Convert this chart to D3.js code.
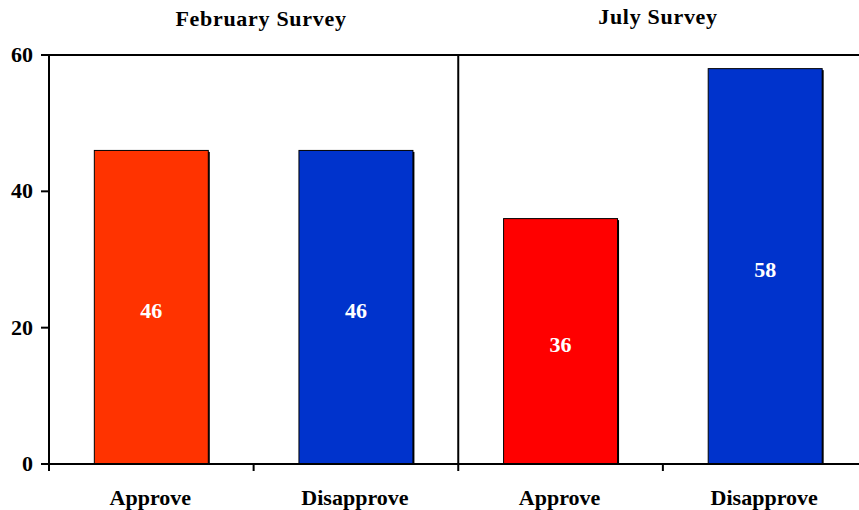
<!DOCTYPE html>
<html>
<head>
<meta charset="utf-8">
<script src="https://cdn.jsdelivr.net/npm/d3@7"></script>
<style>
  body { margin: 0; background: #fff; }
  svg { display: block; }
  text { font-family: "Liberation Serif", "Times New Roman", serif; font-weight: bold; }
</style>
</head>
<body>
<svg id="chart" width="859" height="510"></svg>
<script>
// Approval survey results, two survey rounds
const surveys = ["February Survey", "July Survey"];
const categories = ["Approve", "Disapprove", "Approve", "Disapprove"];
const values = [46, 46, 36, 58];
const colors = ["#ff3300", "#0033cc", "#ff0000", "#0033cc"];
const yTicks = [0, 20, 40, 60];

const svg = d3.select("#chart");
const plotLeft = 49, plotTop = 55, plotBottom = 464, plotRight = 867.5;

const x = d3.scaleBand().domain(d3.range(categories.length)).range([plotLeft, plotRight]).padding(0);
const y = d3.scaleLinear().domain([0, 60]).range([plotBottom, plotTop]);
const barW = x.bandwidth() * 0.557;

// bars with dark right edge
const bars = svg.append("g");
values.forEach((v, i) => {
  const cx = x(i) + x.bandwidth() / 2;
  bars.append("rect")
    .attr("x", cx - barW / 2 + 1.5).attr("y", y(v) + 1.5)
    .attr("width", barW).attr("height", y(0) - y(v) - 1.5)
    .attr("fill", "#000");
  bars.append("rect")
    .attr("x", cx - barW / 2).attr("y", y(v))
    .attr("width", barW).attr("height", y(0) - y(v))
    .attr("fill", colors[i]).attr("stroke", "#000").attr("stroke-width", 1);
  bars.append("text")
    .attr("x", cx).attr("y", (y(v) + y(0)) / 2 + 5.5)
    .attr("text-anchor", "middle").attr("dominant-baseline", "middle")
    .attr("fill", "#fff").attr("font-size", 22)
    .text(v);
});

// frame: left axis, top rule, baseline, survey divider
const frame = svg.append("g").attr("stroke", "#000").attr("stroke-width", 2);
frame.append("line").attr("x1", plotLeft).attr("x2", plotLeft).attr("y1", plotTop).attr("y2", plotBottom + 7);
frame.append("line").attr("x1", plotLeft - 8).attr("x2", 859).attr("y1", plotTop).attr("y2", plotTop);
frame.append("line").attr("x1", plotLeft - 8).attr("x2", 859).attr("y1", plotBottom).attr("y2", plotBottom);
const mid = x(2);
frame.append("line").attr("x1", mid).attr("x2", mid).attr("y1", plotTop).attr("y2", plotBottom + 7);
[1, 3].forEach(i => {
  frame.append("line").attr("x1", x(i)).attr("x2", x(i)).attr("y1", plotBottom).attr("y2", plotBottom + 7);
});

// y axis ticks and labels
yTicks.forEach(t => {
  frame.append("line").attr("x1", plotLeft - 8).attr("x2", plotLeft).attr("y1", y(t)).attr("y2", y(t));
  svg.append("text")
    .attr("x", 33).attr("y", y(t) + 2)
    .attr("text-anchor", "end").attr("dominant-baseline", "middle")
    .attr("font-size", 22).attr("fill", "#000")
    .text(t);
});

// category labels
categories.forEach((c, i) => {
  svg.append("text")
    .attr("x", x(i) + x.bandwidth() / 2 - 1).attr("y", 505)
    .attr("text-anchor", "middle").attr("font-size", 22).attr("fill", "#000")
    .text(c);
});

// survey titles above each pair of bars
surveys.forEach((s, k) => {
  svg.append("text")
    .attr("x", k === 0 ? 261 : 658).attr("y", k === 0 ? 26 : 24)
    .attr("text-anchor", "middle").attr("font-size", 22)
    .attr("letter-spacing", 0.7).attr("fill", "#000")
    .text(s);
});
</script>
</body>
</html>
